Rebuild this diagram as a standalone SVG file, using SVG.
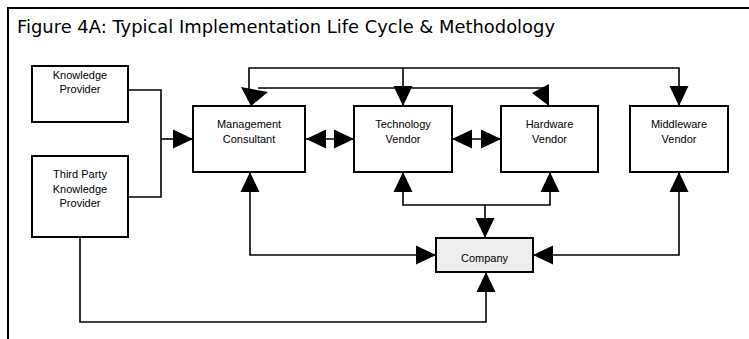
<svg xmlns="http://www.w3.org/2000/svg" width="749" height="339" viewBox="0 0 749 339">
  <style>
    .box { fill: #ffffff; stroke: #000000; stroke-width: 2; }
    .grey { fill: #eeeeee; }
    .lbl { font-family: "Liberation Sans", Arial, sans-serif; font-size: 11px; fill: #000000; text-anchor: middle; }
    .wire { fill: none; stroke: #000000; stroke-width: 1.6; }
    .head { fill: #000000; stroke: none; }
    .title { font-family: "DejaVu Sans", Verdana, sans-serif; font-size: 18px; fill: #000000; }
  </style>
  <defs>
    <marker id="ah" viewBox="0 0 20 20" refX="20" refY="10" markerWidth="20" markerHeight="20" markerUnits="userSpaceOnUse" orient="auto-start-reverse">
      <path d="M0,0.5 L20,10 L0,19.5 Z" fill="#000000"/>
    </marker>
    <clipPath id="companyClip">
      <rect x="436" y="238" width="97" height="26"/>
    </clipPath>
  </defs>

  <rect width="749" height="339" fill="#ffffff"/>

  <!-- figure frame and caption -->
  <path d="M8,339 V8 H749" fill="none" stroke="#000000" stroke-width="2"/>
  <text class="title" x="17" y="33" textLength="538" lengthAdjust="spacingAndGlyphs">Figure 4A: Typical Implementation Life Cycle &amp; Methodology</text>

  <!-- connectors -->
  <g id="connectors">
    <!-- providers into the consultant -->
    <path class="wire" d="M128,90 H161 V197 H128"/>
    <path class="wire" d="M161,139 H193" marker-end="url(#ah)"/>

    <!-- top distribution bus -->
    <path class="wire" d="M249,90 V68 H679 V106" marker-end="url(#ah)"/>
    <path class="wire" d="M403,68 V106" marker-end="url(#ah)"/>
    <path class="wire" d="M258,88 H549"/>
    <polygon class="head" points="241,87 268,92 251,106"/>
    <polygon class="head" points="532,93 549,84 549,106"/>

    <!-- side-by-side exchanges -->
    <path class="wire" d="M306,139 H354" marker-start="url(#ah)" marker-end="url(#ah)"/>
    <path class="wire" d="M452,139 H501" marker-start="url(#ah)" marker-end="url(#ah)"/>

    <!-- vendors down to company -->
    <path class="wire" d="M403,172 V205 H550 V172" marker-start="url(#ah)" marker-end="url(#ah)"/>
    <path class="wire" d="M485,205 V238" marker-end="url(#ah)"/>

    <!-- consultant and middleware to company -->
    <path class="wire" d="M250,172 V255 H436" marker-start="url(#ah)" marker-end="url(#ah)"/>
    <path class="wire" d="M679,172 V255 H533" marker-start="url(#ah)" marker-end="url(#ah)"/>

    <!-- third party provider to company -->
    <path class="wire" d="M80,237 V322 H486 V272" marker-end="url(#ah)"/>
  </g>

  <!-- nodes -->
  <g id="knowledge-provider">
    <rect class="box" x="32" y="66" width="96" height="56"/>
    <text class="lbl" x="80" y="79">Knowledge</text>
    <text class="lbl" x="80" y="93">Provider</text>
  </g>

  <g id="third-party-provider">
    <rect class="box" x="32" y="156" width="96" height="81"/>
    <text class="lbl" x="80" y="178">Third Party</text>
    <text class="lbl" x="80" y="193">Knowledge</text>
    <text class="lbl" x="80" y="207">Provider</text>
  </g>

  <g id="management-consultant">
    <rect class="box" x="193" y="106" width="112" height="66"/>
    <text class="lbl" x="249" y="128">Management</text>
    <text class="lbl" x="249" y="143">Consultant</text>
  </g>

  <g id="technology-vendor">
    <rect class="box" x="354" y="106" width="98" height="66"/>
    <text class="lbl" x="403" y="128">Technology</text>
    <text class="lbl" x="403" y="143">Vendor</text>
  </g>

  <g id="hardware-vendor">
    <rect class="box" x="501" y="106" width="97" height="66"/>
    <text class="lbl" x="549.5" y="128">Hardware</text>
    <text class="lbl" x="549.5" y="143">Vendor</text>
  </g>

  <g id="middleware-vendor">
    <rect class="box" x="630" y="106" width="98" height="66"/>
    <text class="lbl" x="679" y="128">Middleware</text>
    <text class="lbl" x="679" y="143">Vendor</text>
  </g>

  <g id="company">
    <rect class="box grey" x="436" y="238" width="97" height="34"/>
    <text class="lbl" x="484.5" y="262" font-size="12" clip-path="url(#companyClip)">Company</text>
  </g>
</svg>
